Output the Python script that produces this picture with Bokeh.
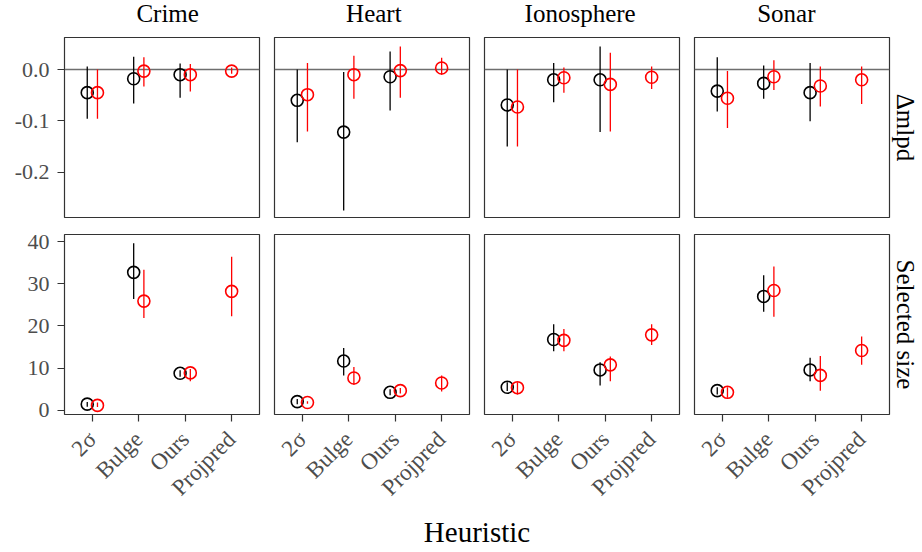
import math
from bokeh.plotting import figure
from bokeh.layouts import row, column
from bokeh.models import (Span, Title, FixedTicker, Range1d, ColumnDataSource,
                          NumeralTickFormatter, Label)
from bokeh.embed import file_html
from bokeh.resources import INLINE

# ---------------- data ----------------
datasets = ["Crime", "Heart", "Ionosphere", "Sonar"]
heuristics = ["2σ", "Bulge", "Ours", "Projpred"]
heuristic_pos = [1, 2, 3, 4]

# Δmlpd, black series (2σ, Bulge, Ours) — rows: Crime, Heart, Ionosphere, Sonar
mlpd_black_mean = [[-0.045, -0.018, -0.010],
                   [-0.060, -0.122, -0.014],
                   [-0.069, -0.020, -0.020],
                   [-0.042, -0.027, -0.045]]
mlpd_black_lo = [[-0.096, -0.066, -0.055],
                 [-0.142, -0.275, -0.080],
                 [-0.150, -0.064, -0.122],
                 [-0.082, -0.057, -0.101]]
mlpd_black_hi = [[0.006, 0.025, 0.012],
                 [0.000, -0.005, 0.035],
                 [0.000, 0.013, 0.045],
                 [0.024, 0.008, 0.013]]

# Δmlpd, red series (2σ, Bulge, Ours, Projpred)
mlpd_red_mean = [[-0.045, -0.003, -0.010, -0.003],
                 [-0.049, -0.010, -0.002, 0.003],
                 [-0.073, -0.016, -0.029, -0.015],
                 [-0.056, -0.014, -0.032, -0.020]]
mlpd_red_lo = [[-0.096, -0.033, -0.043, -0.008],
               [-0.121, -0.057, -0.055, -0.010],
               [-0.150, -0.045, -0.121, -0.038],
               [-0.114, -0.040, -0.072, -0.067]]
mlpd_red_hi = [[0.000, 0.024, 0.011, 0.004],
               [0.013, 0.027, 0.045, 0.023],
               [0.000, 0.004, 0.033, 0.006],
               [-0.003, 0.018, 0.006, 0.006]]

# Selected size, black series
size_black_mean = [[1.5, 32.7, 8.8],
                   [2.1, 11.7, 4.3],
                   [5.5, 16.8, 9.6],
                   [4.7, 27.0, 9.6]]
size_black_lo = [[0.9, 26.4, 8.0],
                 [1.5, 8.3, 3.6],
                 [4.6, 14.0, 5.9],
                 [3.8, 23.4, 6.9]]
size_black_hi = [[2.0, 39.6, 9.5],
                 [2.7, 14.8, 5.0],
                 [6.7, 20.4, 11.4],
                 [5.5, 32.0, 12.5]]

# Selected size, red series
size_red_mean = [[1.2, 25.9, 8.9, 28.2],
                 [1.9, 7.7, 4.7, 6.5],
                 [5.4, 16.6, 10.8, 17.9],
                 [4.3, 28.4, 8.3, 14.2]]
size_red_lo = [[0.8, 21.9, 6.9, 22.3],
               [1.6, 6.1, 4.0, 4.5],
               [3.8, 14.0, 6.9, 15.5],
               [3.0, 22.2, 4.7, 10.8]]
size_red_hi = [[1.9, 33.3, 9.8, 36.4],
               [2.2, 10.3, 5.3, 8.3],
               [6.7, 19.3, 12.8, 20.4],
               [5.5, 34.1, 12.9, 17.5]]

row_labels = ["Δmlpd", "Selected size"]
mlpd_ticks = [-0.2, -0.1, 0.0]
size_ticks = [0, 10, 20, 30, 40]
x_title = "Heuristic"

# ---------------- style ----------------
FONT = "Liberation Serif"
FRAME_W = 195
FRAME_H = 180
DODGE = 0.11
BLACK = "#000000"
RED = "#ff0000"
TICK_COLOR = "#333333"
LABEL_COLOR = "#4d4d4d"

metrics = [
    dict(bm=mlpd_black_mean, bl=mlpd_black_lo, bh=mlpd_black_hi,
         rm=mlpd_red_mean, rl=mlpd_red_lo, rh=mlpd_red_hi,
         yr=(-0.2885, 0.0625), ticks=mlpd_ticks, fmt="0.0", zero=True),
    dict(bm=size_black_mean, bl=size_black_lo, bh=size_black_hi,
         rm=size_red_mean, rl=size_red_lo, rh=size_red_hi,
         yr=(-0.95, 41.66), ticks=size_ticks, fmt="0", zero=False),
]


def style_axis(ax, size):
    ax.axis_line_color = None
    ax.major_tick_out = 7
    ax.major_tick_in = 0
    ax.minor_tick_out = 0
    ax.minor_tick_in = 0
    ax.major_tick_line_color = TICK_COLOR
    ax.major_tick_line_width = 1.2
    ax.major_label_text_font = FONT
    ax.major_label_text_font_size = size
    ax.major_label_text_color = LABEL_COLOR


def make_panel(ri, ci):
    m = metrics[ri]
    left = 64 if ci == 0 else 8
    right = 33 if ci == 3 else 7
    top = 0 if ri == 0 else 9
    bottom = 8 if ri == 0 else 102
    p = figure(width=left + FRAME_W + right, height=top + FRAME_H + bottom,
               x_range=Range1d(0.4, 4.6), y_range=Range1d(*m["yr"]),
               x_axis_location="below" if ri == 1 else None,
               y_axis_location="left" if ci == 0 else None,
               output_backend="svg", toolbar_location=None,
               min_border_left=left, min_border_right=right,
               min_border_top=top, min_border_bottom=bottom)
    p.grid.visible = False
    p.outline_line_color = "#333333"
    p.outline_line_width = 1.2
    p.background_fill_color = "white"
    p.border_fill_color = "white"

    if ci == 3:
        p.add_layout(Title(text=row_labels[ri], align="center", text_font=FONT,
                           text_font_size="25px", text_font_style="normal",
                           text_color="black", standoff=4), "right")

    if ci == 0:
        ax = p.yaxis[0]
        ax.ticker = FixedTicker(ticks=m["ticks"])
        ax.formatter = NumeralTickFormatter(format=m["fmt"])
        style_axis(ax, "22px")
        ax.major_label_standoff = 8
    if ri == 1:
        ax = p.xaxis[0]
        ax.ticker = FixedTicker(ticks=heuristic_pos)
        ax.major_label_overrides = {pos: lab for pos, lab in zip(heuristic_pos, heuristics)}
        ax.major_label_orientation = math.pi / 4
        style_axis(ax, "23px")
        ax.major_label_standoff = 14

    if m["zero"]:
        p.add_layout(Span(location=0, dimension="width", line_color="#6e6e6e",
                          line_width=1.6, level="underlay"))

    nb = len(m["bm"][ci])
    nr = len(m["rm"][ci])
    bx = [heuristic_pos[i] - DODGE for i in range(nb)]
    rx = [heuristic_pos[i] + (DODGE if i < nb else 0.0) for i in range(nr)]
    bsrc = ColumnDataSource(dict(x=bx, mean=m["bm"][ci], lo=m["bl"][ci], hi=m["bh"][ci]))
    rsrc = ColumnDataSource(dict(x=rx, mean=m["rm"][ci], lo=m["rl"][ci], hi=m["rh"][ci]))
    for src, col in ((bsrc, BLACK), (rsrc, RED)):
        p.segment(x0="x", y0="lo", x1="x", y1="hi", source=src,
                  line_color=col, line_width=1.3)
        p.scatter(x="x", y="mean", source=src, marker="circle", size=12,
                  fill_color=None, line_color=col, line_width=1.6)
    return p


def text_strip(height, left, right):
    f = figure(width=922, height=height, x_range=Range1d(0, 1), y_range=Range1d(0, 1),
               x_axis_location=None, y_axis_location=None,
               output_backend="svg", toolbar_location=None,
               min_border_left=left, min_border_right=right,
               min_border_top=0, min_border_bottom=0)
    f.grid.visible = False
    f.outline_line_color = None
    return f


# facet strip labels above the top row (one column of panels per unit)
header = text_strip(37, 56, 26)
header.x_range = Range1d(0, len(datasets))
for i, name in enumerate(datasets):
    header.add_layout(Label(x=i + 0.5, y=0.64, text=name, text_align="center",
                            text_baseline="middle", text_font=FONT,
                            text_font_size="25px", text_color="black"))

rows = []
for ri in range(2):
    rows.append(row(*[make_panel(ri, ci) for ci in range(4)]))

# x-axis title strip
tf = text_strip(36, 64, 33)
tf.add_layout(Label(x=0.5, y=0.58, text=x_title, text_align="center",
                    text_baseline="middle", text_font=FONT,
                    text_font_size="29px", text_color="black"))

layout = column(header, rows[0], rows[1], tf)

with open("out.html", "w") as f:
    f.write(file_html(layout, INLINE))
